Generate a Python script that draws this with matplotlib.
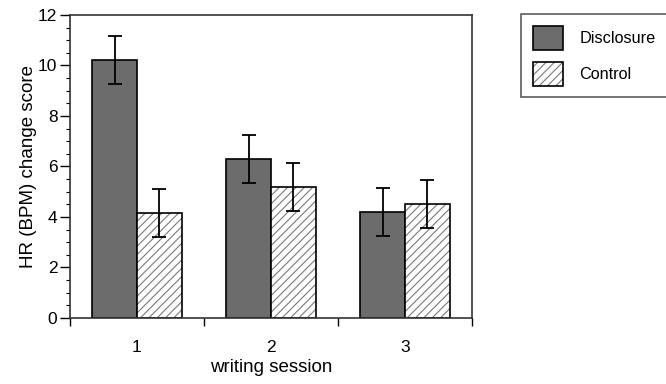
import matplotlib
matplotlib.use("Agg")
import matplotlib.pyplot as plt
from matplotlib.patches import Patch
from matplotlib.legend_handler import HandlerTuple
from matplotlib.ticker import MultipleLocator
import numpy as np

# data
sessions = ["1", "2", "3"]
disclosure = [10.2, 6.3, 4.2]
disclosure_err = [0.95, 0.95, 0.95]
control = [4.15, 5.2, 4.5]
control_err = [0.95, 0.95, 0.95]

plt.rcParams['font.family'] = ['Liberation Sans', 'DejaVu Sans']
plt.rcParams['hatch.linewidth'] = 0.8
plt.rcParams['hatch.color'] = '#7a7a7a'

fig = plt.figure(figsize=(6.66, 3.84), dpi=100)
ax = fig.add_axes([0.105, 0.172, 0.604, 0.789])

x = np.arange(1, len(sessions) + 1)
w = 1 / 3

ax.bar(x - w / 2, disclosure, w, color='#6c6c6c', edgecolor='black', linewidth=1.2)
# hatched control bars: hatch fill first, then a black outline on top
ax.bar(x + w / 2, control, w, color='white', hatch='////', linewidth=0)
ax.bar(x + w / 2, control, w, fill=False, edgecolor='black', linewidth=1.2)

ax.errorbar(x - w / 2, disclosure, yerr=disclosure_err, fmt='none', ecolor='black',
            elinewidth=1.3, capsize=5, capthick=1.3)
ax.errorbar(x + w / 2, control, yerr=control_err, fmt='none', ecolor='black',
            elinewidth=1.3, capsize=5, capthick=1.3)

ax.set_xlim(0.5, 3.5)
ax.set_ylim(0, 12)
ax.yaxis.set_major_locator(MultipleLocator(2))
ax.yaxis.set_minor_locator(MultipleLocator(0.5))

# session labels under the groups, ticks between the groups
ax.set_xticks([0.5, 1.5, 2.5, 3.5])
ax.set_xticklabels([])
ax.set_xticks(x, minor=True)
ax.set_xticklabels(sessions, minor=True, fontsize=12.5)
ax.tick_params(axis='x', which='minor', length=0, pad=16)
ax.tick_params(axis='x', which='major', length=6, width=1, direction='out')
ax.tick_params(axis='y', which='major', length=7, width=1, labelsize=12.5, pad=2)
ax.tick_params(axis='y', which='minor', length=3, width=0.8)

for s in ax.spines.values():
    s.set_linewidth(1.2)
    s.set_color('#333333')

ax.set_ylabel("HR (BPM) change score", fontsize=13.5, labelpad=1)
ax.set_xlabel("writing session", fontsize=13.5, labelpad=3)

h_disc = Patch(facecolor='#6c6c6c', edgecolor='black', linewidth=1.2)
h_ctrl = (Patch(facecolor='white', hatch='////', linewidth=0),
          Patch(fill=False, edgecolor='black', linewidth=1.2))
leg = fig.legend([h_disc, h_ctrl], ["Disclosure", "Control"],
                 handler_map={tuple: HandlerTuple(ndivide=1, pad=0)},
                 loc='upper left', bbox_to_anchor=(0.783, 0.963),
                 fontsize=11.7, handlelength=1.85, handleheight=1.9,
                 labelspacing=0.75, handletextpad=1.0, borderpad=0.7,
                 fancybox=False, frameon=True, borderaxespad=0)
leg.get_frame().set_edgecolor('#333333')
leg.get_frame().set_linewidth(1.2)

fig.savefig("out.png", dpi=100)
